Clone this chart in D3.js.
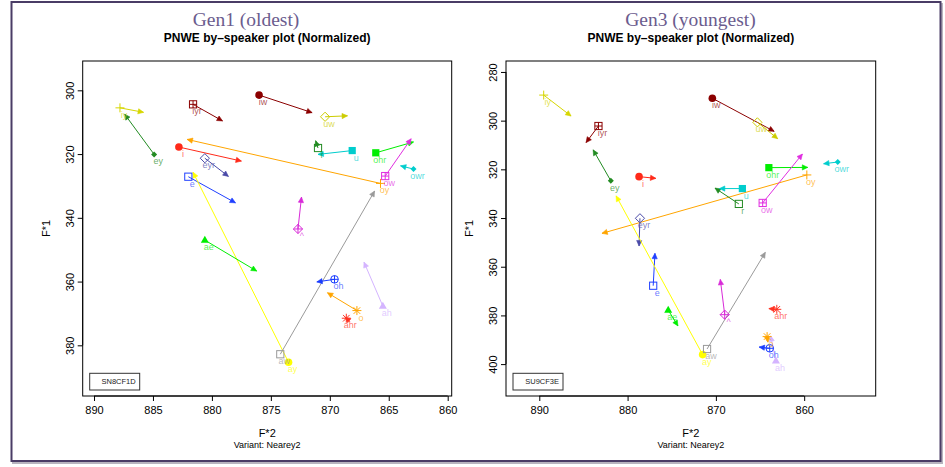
<!DOCTYPE html>
<html>
<head>
<meta charset="utf-8">
<script src="https://cdn.jsdelivr.net/npm/d3@7"></script>
<style>
  body { margin: 0; background: #fff; }
  svg text { font-family: "Liberation Sans", Arial, sans-serif; }
</style>
</head>
<body>
<div id="chart"></div>
<script>
// vowel classes, same order in every array below
const vowels = ['iy', 'iyr', 'iw', 'ey', 'i', 'eyr', 'e', 'oy', 'ay', 'uw', 'r',
                'u', 'ohr', 'ow', 'owr', 'aw', 'ae', '^', 'oh', 'o', 'ahr', 'ah'];

// Gen1 speaker SN8CF1D (onset -> offset)
const gen1OnsetF2  = [887.8, 881.6, 876.0, 884.9, 882.8, 880.6, 882.0, 865.7, 873.5, 870.4, 871.0,
                      868.1, 866.1, 865.3, 862.9, 874.2, 880.6, 872.7, 869.6, 867.7, 868.6, 865.5];
const gen1OnsetF1  = [305.5, 304.4, 301.5, 320.1, 317.8, 321.3, 327.1, 329.2, 385.3, 308.3, 318.1,
                      318.9, 319.6, 326.9, 324.7, 382.8, 347.0, 343.5, 359.3, 369.1, 371.5, 367.7];
const gen1OffsetF2 = [885.8, 879.1, 871.5, 887.4, 877.5, 878.6, 878.0, 882.1, 881.6, 868.5, 871.2,
                      871.0, 862.9, 863.1, 864.0, 866.2, 876.2, 872.4, 871.1, 870.2, 868.7, 867.1];
const gen1OffsetF1 = [306.9, 309.6, 307.0, 307.5, 322.2, 327.0, 335.3, 315.4, 325.7, 308.0, 315.8,
                      320.1, 316.2, 315.2, 323.7, 331.6, 356.7, 333.5, 360.1, 363.5, 371.2, 353.9];

// Gen3 speaker SU9CF3E
const gen3OnsetF2  = [889.5, 883.3, 870.4, 881.9, 878.7, 878.6, 877.1, 859.7, 871.5, 865.3, 867.4,
                      867.0, 864.0, 864.7, 856.2, 871.0, 875.4, 869.0, 863.9, 864.2, 863.1, 863.2];
const gen3OnsetF1  = [289.5, 302.2, 290.8, 324.7, 323.0, 340.1, 367.8, 322.3, 396.1, 300.7, 334.2,
                      327.9, 319.3, 333.8, 317.0, 393.8, 377.8, 379.7, 393.5, 388.7, 377.5, 398.7];
const gen3OffsetF2 = [886.4, 884.7, 863.4, 883.9, 876.8, 878.7, 876.9, 882.9, 881.3, 863.0, 870.1,
                      869.6, 859.6, 860.2, 857.8, 864.4, 874.3, 869.5, 865.1, 864.1, 864.0, 863.8];
const gen3OffsetF1 = [298.1, 309.0, 304.4, 312.0, 323.7, 351.5, 354.5, 346.3, 330.9, 307.4, 327.7,
                      327.9, 319.2, 313.7, 317.7, 354.1, 384.3, 365.2, 393.0, 391.0, 377.2, 388.4];

const gen1XTicks = [890, 885, 880, 875, 870, 865, 860];
const gen1YTicks = [300, 320, 340, 360, 380];
const gen3XTicks = [890, 880, 870, 860];
const gen3YTicks = [280, 300, 320, 340, 360, 380, 400];

// plotting symbol and colour per vowel (style only)
const vowelStyle = {
    iy:  { shape: 'plus',        color: '#d6d600' },
    iyr: { shape: 'sqplus',      color: '#8b0000' },
    iw:  { shape: 'circle',      color: '#8b0000' },
    ey:  { shape: 'sdiamond',    color: '#228b22' },
    i:   { shape: 'circle',      color: '#ff2a1a' },
    eyr: { shape: 'diamond',     color: '#4a4aa8' },
    e:   { shape: 'square',      color: '#1f3fff' },
    oy:  { shape: 'plus',        color: '#ffa500' },
    ay:  { shape: 'circle',      color: '#ffff00' },
    uw:  { shape: 'diamond',     color: '#cccc00' },
    r:   { shape: 'square',      color: '#228b22' },
    u:   { shape: 'fsquare',     color: '#00cdcd' },
    ohr: { shape: 'fsquare',     color: '#00ee00' },
    ow:  { shape: 'sqplus',      color: '#e02ee0' },
    owr: { shape: 'sdiamond',    color: '#00cdcd' },
    aw:  { shape: 'square',      color: '#9a9a9a' },
    ae:  { shape: 'triangle',    color: '#00ee00' },
    '^': { shape: 'diamondplus', color: '#d82ad8' },
    oh:  { shape: 'circleplus',  color: '#1a3cff' },
    o:   { shape: 'asterisk',    color: '#ffa500' },
    ahr: { shape: 'asterisk',    color: '#ff3322' },
    ah:  { shape: 'triangle',    color: '#d4b4ff' }
};

const panels = [
    {
        title: 'Gen1 (oldest)', titleX: 246, speaker: 'SN8CF1D',
        box: { x0: 82.7, x1: 451.7, y0: 61, y1: 396 },
        xDomain: [890.96, 859.66], yDomain: [290.8, 395.9],
        xTicks: gen1XTicks, yTicks: gen1YTicks,
        onF2: gen1OnsetF2, onF1: gen1OnsetF1, offF2: gen1OffsetF2, offF1: gen1OffsetF1
    },
    {
        title: 'Gen3 (youngest)', titleX: 690.5, speaker: 'SU9CF3E',
        box: { x0: 506, x1: 875.7, y0: 61, y1: 396 },
        xDomain: [893.77, 851.9], yDomain: [275.5, 413.1],
        xTicks: gen3XTicks, yTicks: gen3YTicks,
        onF2: gen3OnsetF2, onF1: gen3OnsetF1, offF2: gen3OffsetF2, offF1: gen3OffsetF1
    }
];

const width = 945, height = 467;

const svg = d3.select('#chart')
    .append('svg')
    .attr('width', width)
    .attr('height', height);

svg.append('rect').attr('width', width).attr('height', height).attr('fill', '#fff');

// frame with soft shadow
svg.append('rect')
    .attr('x', 13).attr('y', 4).attr('width', 929).attr('height', 459)
    .attr('fill', 'none').attr('stroke', '#b8b4bf').attr('stroke-width', 2);
svg.append('rect')
    .attr('x', 11.5).attr('y', 2).attr('width', 929).attr('height', 459)
    .attr('fill', '#fff').attr('stroke', '#4a3c66').attr('stroke-width', 2);

function drawMarker(g, shape, x, y, color) {
    const s = 3.6;
    const m = g.append('g').attr('transform', `translate(${x},${y})`);
    const line = (x1, y1, x2, y2) => m.append('line')
        .attr('x1', x1).attr('y1', y1).attr('x2', x2).attr('y2', y2)
        .attr('stroke', color).attr('stroke-width', 1);
    switch (shape) {
        case 'plus':
            line(-4.5, 0, 4.5, 0); line(0, -4.5, 0, 4.5);
            break;
        case 'sqplus':
            m.append('rect').attr('x', -s).attr('y', -s).attr('width', 2 * s).attr('height', 2 * s)
                .attr('fill', 'none').attr('stroke', color);
            line(-s, 0, s, 0); line(0, -s, 0, s);
            break;
        case 'circle':
            m.append('circle').attr('r', 3.8).attr('fill', color);
            break;
        case 'sdiamond':
            m.append('path').attr('d', 'M0,-3L3,0L0,3L-3,0Z').attr('fill', color);
            break;
        case 'diamond':
            m.append('path').attr('d', 'M0,-4.6L4.6,0L0,4.6L-4.6,0Z')
                .attr('fill', 'none').attr('stroke', color);
            break;
        case 'diamondplus':
            m.append('path').attr('d', 'M0,-4.6L4.6,0L0,4.6L-4.6,0Z')
                .attr('fill', 'none').attr('stroke', color);
            line(-4.6, 0, 4.6, 0); line(0, -4.6, 0, 4.6);
            break;
        case 'square':
            m.append('rect').attr('x', -s).attr('y', -s).attr('width', 2 * s).attr('height', 2 * s)
                .attr('fill', 'none').attr('stroke', color);
            break;
        case 'fsquare':
            m.append('rect').attr('x', -s).attr('y', -s).attr('width', 2 * s).attr('height', 2 * s)
                .attr('fill', color);
            break;
        case 'triangle':
            m.append('path').attr('d', 'M0,-4.4L4,2.6L-4,2.6Z').attr('fill', color);
            break;
        case 'circleplus':
            m.append('circle').attr('r', 3.8).attr('fill', 'none').attr('stroke', color);
            line(-3.8, 0, 3.8, 0); line(0, -3.8, 0, 3.8);
            break;
        case 'asterisk':
            line(-4.5, 0, 4.5, 0); line(0, -4.5, 0, 4.5);
            line(-3.3, -3.3, 3.3, 3.3); line(-3.3, 3.3, 3.3, -3.3);
            break;
    }
}

function drawArrow(g, x1, y1, x2, y2, color) {
    g.append('line')
        .attr('x1', x1).attr('y1', y1).attr('x2', x2).attr('y2', y2)
        .attr('stroke', color).attr('stroke-width', 1);
    const a = Math.atan2(y2 - y1, x2 - x1);
    const len = 6, spread = Math.PI / 7;
    const p1 = [x2 - len * Math.cos(a - spread), y2 - len * Math.sin(a - spread)];
    const p2 = [x2 - len * Math.cos(a + spread), y2 - len * Math.sin(a + spread)];
    g.append('path')
        .attr('d', `M${x2},${y2}L${p1[0]},${p1[1]}L${p2[0]},${p2[1]}Z`)
        .attr('fill', color).attr('stroke', color).attr('stroke-width', 0.6);
}

panels.forEach(p => {
    const b = p.box;
    const x = d3.scaleLinear().domain(p.xDomain).range([b.x0, b.x1]);
    const y = d3.scaleLinear().domain(p.yDomain).range([b.y0, b.y1]);
    const cx = (b.x0 + b.x1) / 2;
    const cy = (b.y0 + b.y1) / 2;

    // titles
    svg.append('text')
        .attr('x', p.titleX).attr('y', 26)
        .attr('text-anchor', 'middle')
        .style('font-family', '"Liberation Serif", "DejaVu Serif", serif')
        .style('font-size', '19.5px')
        .attr('fill', '#6b5c8e')
        .text(p.title);
    svg.append('text')
        .attr('x', cx).attr('y', 42)
        .attr('text-anchor', 'middle')
        .style('font-size', '12px').style('font-weight', 'bold')
        .attr('fill', '#000')
        .text('PNWE by\u2013speaker plot (Normalized)');

    // axes
    const xAxis = svg.append('g')
        .attr('transform', `translate(0,${b.y1})`)
        .call(d3.axisBottom(x).tickValues(p.xTicks).tickSize(5).tickPadding(5).tickSizeOuter(0));
    xAxis.select('.domain').remove();
    xAxis.selectAll('text').style('font-size', '11px')
        .style('font-family', '"Liberation Sans", Arial, sans-serif').attr('fill', '#000');
    xAxis.append('line')
        .attr('x1', x(p.xTicks[0])).attr('x2', x(p.xTicks[p.xTicks.length - 1]))
        .attr('stroke', '#000');

    const yAxis = svg.append('g')
        .attr('transform', `translate(${b.x0},0)`)
        .call(d3.axisLeft(y).tickValues(p.yTicks).tickSize(5).tickSizeOuter(0));
    yAxis.select('.domain').remove();
    yAxis.selectAll('text').remove();
    yAxis.append('line')
        .attr('y1', y(p.yTicks[0])).attr('y2', y(p.yTicks[p.yTicks.length - 1]))
        .attr('stroke', '#000');
    yAxis.selectAll('.tick').append('text')
        .attr('transform', 'translate(-13,0) rotate(-90)')
        .attr('text-anchor', 'middle')
        .attr('dy', '0.35em')
        .attr('fill', '#000')
        .style('font-size', '11px')
        .text(d => d);

    // plot box
    svg.append('rect')
        .attr('x', b.x0).attr('y', b.y0)
        .attr('width', b.x1 - b.x0).attr('height', b.y1 - b.y0)
        .attr('fill', 'none').attr('stroke', '#000').attr('stroke-width', 1);

    // axis titles
    svg.append('text')
        .attr('x', cx).attr('y', 437)
        .attr('text-anchor', 'middle').style('font-size', '11px')
        .text('F*2');
    svg.append('text')
        .attr('x', cx).attr('y', 448)
        .attr('text-anchor', 'middle').style('font-size', '9px')
        .text('Variant: Nearey2');
    svg.append('text')
        .attr('transform', `translate(${b.x0 - 37},${cy}) rotate(-90)`)
        .attr('text-anchor', 'middle').attr('dy', '0.35em').style('font-size', '11px')
        .text('F*1');

    // trajectories
    const marks = svg.append('g');
    vowels.forEach((v, i) => {
        const st = vowelStyle[v];
        drawArrow(marks, x(p.onF2[i]), y(p.onF1[i]), x(p.offF2[i]), y(p.offF1[i]), st.color);
    });
    vowels.forEach((v, i) => {
        const st = vowelStyle[v];
        const px = x(p.onF2[i]), py = y(p.onF1[i]);
        drawMarker(marks, st.shape, px, py, st.color);
        marks.append('text')
            .attr('x', px + 4).attr('y', py + 10)
            .attr('text-anchor', 'middle')
            .style('font-size', '9px')
            .attr('fill', st.color).attr('fill-opacity', 0.7)
            .text(v);
    });

    // speaker legend
    const lx = b.x0 + 7, ly = b.y1 - 22.7;
    svg.append('rect')
        .attr('x', lx).attr('y', ly).attr('width', 50).attr('height', 16.7)
        .attr('fill', '#fff').attr('stroke', '#333').attr('stroke-width', 1);
    svg.append('text')
        .attr('x', lx + 46).attr('y', ly + 11)
        .attr('text-anchor', 'end').style('font-size', '7.5px').attr('fill', '#222')
        .text(p.speaker);
});
</script>
</body>
</html>
